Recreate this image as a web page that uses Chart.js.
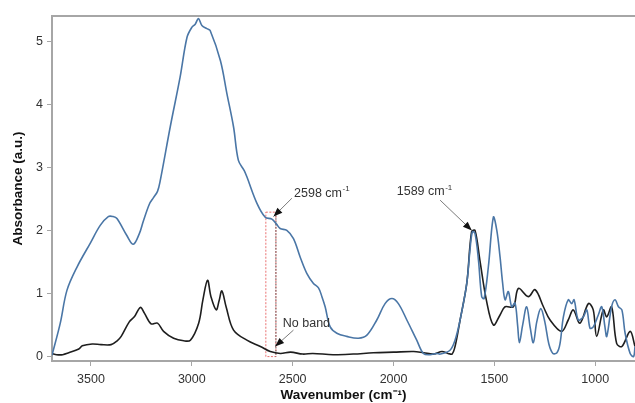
<!DOCTYPE html>
<html>
<head>
<meta charset="utf-8">
<script src="https://cdn.jsdelivr.net/npm/chart.js@4/dist/chart.umd.min.js"></script>
<style>
  html, body { margin: 0; padding: 0; background: #fff; }
  #wrap { width: 635px; height: 403px; position: relative; }
</style>
</head>
<body>
<div id="wrap"><canvas id="myChart"></canvas></div>
<script>
// wavenumbers (cm-1) and absorbance
const blueWavenumber = [3693, 3652, 3619, 3569, 3503, 3454, 3414, 3390, 3371, 3322, 3290, 3260, 3240, 3210, 3190, 3170, 3157, 3107, 3058, 3024, 3000, 2983, 2967, 2950, 2925, 2909, 2858, 2826, 2793, 2769, 2740, 2727, 2677, 2636, 2603, 2580, 2562, 2529, 2496, 2463, 2430, 2397, 2372, 2355, 2339, 2314, 2281, 2232, 2174, 2132, 2083, 2042, 2008, 1976, 1934, 1885, 1852, 1819, 1786, 1769, 1720, 1695, 1670, 1637, 1621, 1609, 1596, 1579, 1563, 1551, 1530, 1505, 1488, 1472, 1459, 1447, 1431, 1414, 1398, 1385, 1376, 1360, 1340, 1322, 1307, 1290, 1270, 1250, 1230, 1210, 1190, 1175, 1158, 1134, 1117, 1105, 1084, 1059, 1042, 1026, 1010, 985, 968, 952, 943, 919, 902, 885, 868, 852, 827, 810, 803];
const blueAbsorbance = [0.02, 0.53, 1.05, 1.42, 1.80, 2.08, 2.22, 2.22, 2.19, 1.92, 1.78, 1.95, 2.15, 2.42, 2.52, 2.62, 2.78, 3.64, 4.43, 5.06, 5.22, 5.27, 5.36, 5.25, 5.20, 5.17, 4.69, 4.17, 3.64, 3.11, 2.95, 2.85, 2.43, 2.21, 2.18, 2.10, 2.03, 2.00, 1.87, 1.58, 1.32, 1.16, 1.09, 0.95, 0.79, 0.47, 0.37, 0.32, 0.29, 0.34, 0.58, 0.84, 0.92, 0.84, 0.58, 0.26, 0.05, 0.03, 0.05, 0.04, 0.10, 0.26, 0.58, 1.16, 1.69, 1.98, 1.95, 1.53, 0.95, 0.92, 1.42, 2.21, 2.00, 1.58, 1.16, 0.90, 1.03, 0.79, 0.85, 0.50, 0.22, 0.50, 0.79, 0.45, 0.22, 0.55, 0.76, 0.55, 0.20, 0.05, 0.06, 0.20, 0.63, 0.90, 0.84, 0.90, 0.58, 0.63, 0.74, 0.45, 0.47, 0.66, 0.79, 0.47, 0.32, 0.79, 0.90, 0.79, 0.74, 0.37, 0.05, 0.00, 0.16];

const blackWavenumber = [3693, 3670, 3640, 3610, 3560, 3543, 3494, 3450, 3400, 3370, 3350, 3310, 3285, 3255, 3235, 3202, 3170, 3140, 3090, 3040, 3007, 2966, 2945, 2922, 2905, 2879, 2865, 2851, 2830, 2793, 2727, 2660, 2611, 2561, 2510, 2450, 2400, 2300, 2200, 2100, 2000, 1900, 1850, 1800, 1760, 1730, 1710, 1695, 1670, 1637, 1613, 1596, 1572, 1540, 1505, 1472, 1447, 1406, 1381, 1332, 1298, 1257, 1224, 1167, 1134, 1109, 1076, 1034, 1010, 993, 960, 943, 919, 894, 868, 827, 803];
const blackAbsorbance = [0.05, 0.03, 0.03, 0.06, 0.12, 0.17, 0.20, 0.19, 0.19, 0.25, 0.32, 0.55, 0.63, 0.78, 0.69, 0.52, 0.53, 0.40, 0.29, 0.25, 0.26, 0.53, 0.90, 1.21, 0.95, 0.74, 0.88, 1.04, 0.79, 0.42, 0.26, 0.16, 0.08, 0.05, 0.07, 0.04, 0.05, 0.03, 0.04, 0.06, 0.07, 0.08, 0.06, 0.04, 0.08, 0.05, 0.04, 0.16, 0.58, 1.16, 1.98, 2.00, 1.53, 0.90, 0.50, 0.66, 0.79, 0.79, 1.08, 0.95, 1.06, 0.79, 0.58, 0.40, 0.58, 0.74, 0.53, 0.84, 0.74, 0.32, 0.74, 0.63, 0.79, 0.21, 0.16, 0.40, 0.16];

const xTicks = [3500, 3000, 2500, 2000, 1500, 1000];
const yTicks = [0, 1, 2, 3, 4, 5];

const blueColor = "rgb(74,118,166)";
const blackColor = "rgb(30,30,30)";
const textColor = "#333333";
const axisColor = "#a6a6a6";
const fontFamily = "'Liberation Sans', Arial, sans-serif";

const toPoints = (xs, ys) => xs.map((x, i) => ({ x: x, y: ys[i] }));

/*********************************
 ANNOTATIONS (data coordinates)
**********************************/
const bandBox = { from: 2633, to: 2583, top: 2.29, bottom: 0 };
const labels = [
  { text: "2598 cm", sup: "-1", x: 2493, y: 2.59, arrowFrom: [2504, 2.51], arrowTo: [2595, 2.22] },
  { text: "No band", sup: "", x: 2549, y: 0.53, arrowFrom: [2496, 0.42], arrowTo: [2587, 0.16] },
  { text: "1589 cm", sup: "-1", x: 1984, y: 2.61, arrowFrom: [1769, 2.48], arrowTo: [1612, 2.0] },
];

function drawArrow(ctx, x1, y1, x2, y2) {
  ctx.strokeStyle = "#7a7a7a";
  ctx.lineWidth = 1;
  ctx.setLineDash([]);
  ctx.beginPath();
  ctx.moveTo(x1, y1);
  ctx.lineTo(x2, y2);
  ctx.stroke();
  const ang = Math.atan2(y2 - y1, x2 - x1);
  const len = 9, half = 3.5;
  ctx.fillStyle = "#111";
  ctx.beginPath();
  ctx.moveTo(x2, y2);
  ctx.lineTo(x2 - len * Math.cos(ang) + half * Math.sin(ang), y2 - len * Math.sin(ang) - half * Math.cos(ang));
  ctx.lineTo(x2 - len * Math.cos(ang) - half * Math.sin(ang), y2 - len * Math.sin(ang) + half * Math.cos(ang));
  ctx.closePath();
  ctx.fill();
}

const annotationPlugin = {
  id: "annotations",
  beforeDatasetsDraw(chart) {
    const { ctx, chartArea, scales: { x, y } } = chart;
    ctx.save();
    // frame top line
    ctx.strokeStyle = axisColor;
    ctx.lineWidth = 2;
    ctx.beginPath();
    ctx.moveTo(chartArea.left, chartArea.top);
    ctx.lineTo(chartArea.right, chartArea.top);
    ctx.stroke();
    // red dashed box
    const bx1 = x.getPixelForValue(bandBox.from), bx2 = x.getPixelForValue(bandBox.to);
    const by1 = y.getPixelForValue(bandBox.top), by2 = y.getPixelForValue(bandBox.bottom);
    ctx.strokeStyle = "rgba(230,90,90,0.85)";
    ctx.lineWidth = 1;
    ctx.setLineDash([2, 1.5]);
    ctx.strokeRect(bx1, by1, bx2 - bx1, by2 - by1);
    ctx.strokeStyle = "rgba(60,60,60,0.8)";
    ctx.setLineDash([1.5, 1.5]);
    ctx.beginPath();
    ctx.moveTo(bx2, by1);
    ctx.lineTo(bx2, by2);
    ctx.stroke();
    ctx.restore();
  },
  afterDatasetsDraw(chart) {
    const { ctx, scales: { x, y } } = chart;
    ctx.save();
    labels.forEach(l => {
      drawArrow(ctx, x.getPixelForValue(l.arrowFrom[0]), y.getPixelForValue(l.arrowFrom[1]),
        x.getPixelForValue(l.arrowTo[0]), y.getPixelForValue(l.arrowTo[1]));
      const px = x.getPixelForValue(l.x), py = y.getPixelForValue(l.y);
      ctx.fillStyle = textColor;
      ctx.textBaseline = "middle";
      ctx.textAlign = "left";
      ctx.font = "12.5px " + fontFamily;
      ctx.fillText(l.text, px, py);
      if (l.sup) {
        const w = ctx.measureText(l.text).width;
        ctx.font = "8px " + fontFamily;
        ctx.fillText(l.sup, px + w + 0.5, py - 4);
      }
    });
    ctx.restore();
  }
};

const data = {
  datasets: [
    {
      label: "blue",
      data: toPoints(blueWavenumber, blueAbsorbance),
      borderColor: blueColor,
      borderWidth: 1.6,
      pointRadius: 0,
      tension: 0.35,
      fill: false,
    },
    {
      label: "black",
      data: toPoints(blackWavenumber, blackAbsorbance),
      borderColor: blackColor,
      borderWidth: 1.6,
      pointRadius: 0,
      tension: 0.35,
      fill: false,
    },
  ]
};

const config = {
  type: "line",
  data: data,
  options: {
    responsive: true,
    maintainAspectRatio: false,
    animation: false,
    layout: { padding: { top: 16, right: 0, bottom: 0, left: 0 } },
    plugins: {
      legend: { display: false },
      tooltip: { enabled: false },
    },
    scales: {
      x: {
        type: "linear",
        reverse: true,
        min: 803,
        max: 3693,
        afterBuildTicks: (scale) => { scale.ticks = xTicks.map(v => ({ value: v })); },
        afterFit: (scale) => { scale.height = 42; },
        grid: { display: true, drawOnChartArea: false, drawTicks: true, tickLength: 5, color: axisColor },
        border: { display: true, color: axisColor, width: 2 },
        ticks: {
          color: textColor, font: { family: fontFamily, size: 12.5 }, padding: 6, maxRotation: 0,
          callback: (value) => String(value)
        },
        title: {
          display: true,
          text: "Wavenumber (cm\u207B\u00B9)",
          color: "#111",
          font: { family: fontFamily, size: 13.5, weight: "bold" },
          padding: { top: 0, bottom: 0 },
        },
      },
      y: {
        type: "linear",
        min: -0.07,
        max: 5.4,
        afterBuildTicks: (scale) => { scale.ticks = yTicks.map(v => ({ value: v })); },
        afterFit: (scale) => { scale.width = 52; },
        grid: { display: true, drawOnChartArea: false, drawTicks: true, tickLength: 5, color: axisColor },
        border: { display: true, color: axisColor, width: 2 },
        ticks: {
          color: textColor, font: { family: fontFamily, size: 12.5 }, padding: 4,
          callback: (value) => String(value)
        },
        title: {
          display: true,
          text: "Absorbance (a.u.)",
          color: "#111",
          font: { family: fontFamily, size: 13.5, weight: "bold" },
          padding: { top: 10, bottom: 10 },
        },
      },
    },
  },
  plugins: [annotationPlugin]
};

new Chart(document.getElementById("myChart"), config);
</script>
</body>
</html>
